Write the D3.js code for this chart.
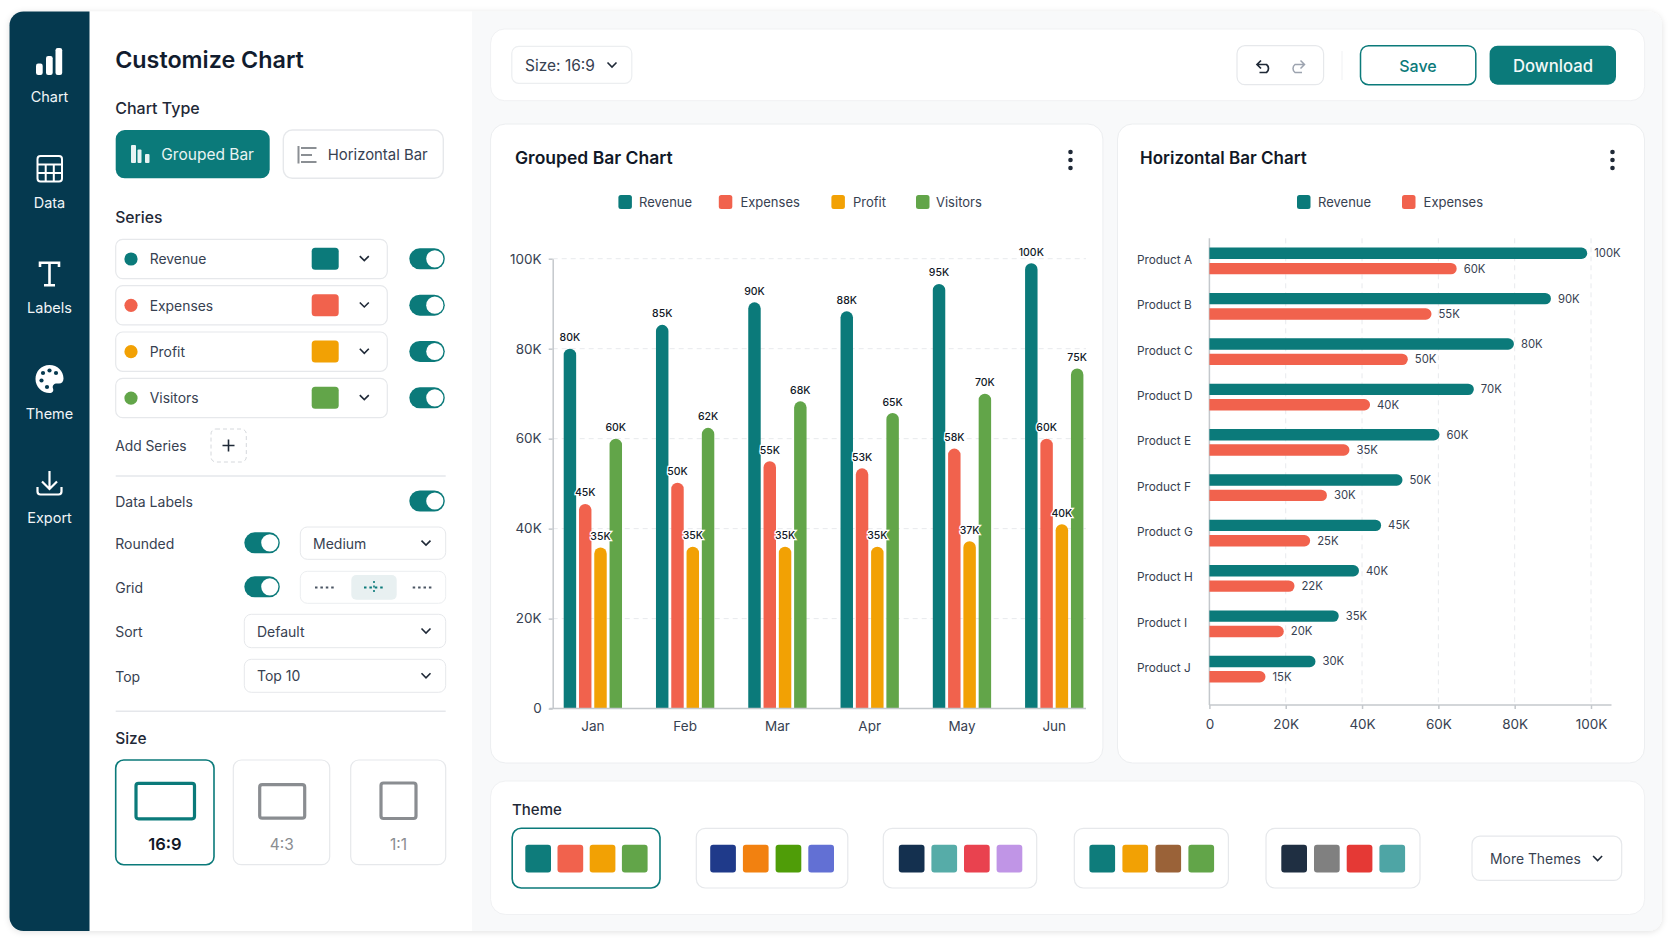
<!DOCTYPE html>
<html>
<head>
<meta charset="utf-8">
<title>Customize Chart</title>
<script src="https://cdnjs.cloudflare.com/ajax/libs/d3/7.8.5/d3.min.js"></script>
<style>
  html, body { margin: 0; padding: 0; background: #fff; }
  svg { display: block; font-family: Inter, "Noto Sans", sans-serif; }
  .gridline { stroke: #e8eaed; stroke-width: 1; stroke-dasharray: 5 4; }
  .axis path, .axis line { stroke: #c4c8cc; stroke-width: 1.5; }
  .axis text { font-family: Inter, sans-serif; font-size: 13.5px; fill: #374151; }
</style>
</head>
<body>
<svg id="page" width="1672" height="941"></svg>
<script>
// Data
// ------------------------------
var seriesNames = ['Revenue', 'Expenses', 'Profit', 'Visitors'];
var seriesColors = ['#0b7a7a', '#f1624d', '#f2a104', '#62a549'];

// bar heights, printed labels kept apart (they do not always agree)
var months = ['Jan', 'Feb', 'Mar', 'Apr', 'May', 'Jun'];
var monthRevenue = [80, 85.3, 90.3, 88.3, 94.4, 99];
var monthExpenses = [45.5, 50.2, 55, 53.4, 57.8, 60];
var monthProfit = [35.8, 36, 36, 36, 37.2, 41];
var monthVisitors = [60, 62.4, 68.3, 65.7, 70, 75.6];
var monthRevenueLabels = ['80K', '85K', '90K', '88K', '95K', '100K'];
var monthExpensesLabels = ['45K', '50K', '55K', '53K', '58K', '60K'];
var monthProfitLabels = ['35K', '35K', '35K', '35K', '37K', '40K'];
var monthVisitorsLabels = ['60K', '62K', '68K', '65K', '70K', '75K'];

var products = ['Product A', 'Product B', 'Product C', 'Product D', 'Product E',
                'Product F', 'Product G', 'Product H', 'Product I', 'Product J'];
var productRevenue = [99, 89.5, 79.8, 69.3, 60.3, 50.6, 45, 39.2, 33.9, 27.8];
var productExpenses = [64.8, 58.2, 52, 42.1, 36.7, 30.8, 26.4, 22.3, 19.5, 14.7];
var productRevenueLabels = ['100K', '90K', '80K', '70K', '60K', '50K', '45K', '40K', '35K', '30K'];
var productExpensesLabels = ['60K', '55K', '50K', '40K', '35K', '30K', '25K', '22K', '20K', '15K'];

var tickValues = [0, 20, 40, 60, 80, 100];
var tickLabels = ['0', '20K', '40K', '60K', '80K', '100K'];

var themes = [
  ['#0e7c7b', '#f1624d', '#f2a104', '#62a549'],
  ['#1f3a8a', '#f28110', '#4f9d08', '#6270d4'],
  ['#14304f', '#56aca8', '#e9424f', '#c095e6'],
  ['#0e7c7b', '#f2a104', '#9a6238', '#62a549'],
  ['#1f2f42', '#808080', '#e53935', '#4ea5a5']
];

// Helpers
// ------------------------------
var TEAL = '#0b7a7a', BORDER = '#e6e8eb', INK = '#111827', SOFT = '#374151';
var svg = d3.select('#page');

function box(g, x, y, w, h, r, fill, stroke, sw) {
  return g.append('rect').attr('x', x).attr('y', y).attr('width', w).attr('height', h).attr('rx', r)
    .attr('fill', fill || 'none').attr('stroke', stroke || 'none').attr('stroke-width', sw || 1);
}

function label(g, x, y, str, size, weight, fill, anchor) {
  return g.append('text').attr('x', x).attr('y', y).attr('dominant-baseline', 'central')
    .attr('font-size', size).attr('font-weight', weight || 400).attr('fill', fill || SOFT)
    .attr('text-anchor', anchor || 'start').text(str);
}

function chevron(g, x, y) {
  g.append('path').attr('d', 'M' + (x - 4.5) + ',' + (y - 2.5) + 'l4.5,4.5l4.5,-4.5')
    .attr('fill', 'none').attr('stroke', '#1f2937').attr('stroke-width', 1.6);
}

function toggle(g, x, y) {
  box(g, x, y, 35.5, 21, 10.5, TEAL);
  g.append('circle').attr('cx', x + 25.5).attr('cy', y + 10.5).attr('r', 8.6).attr('fill', '#fff');
}

function select(g, x, y, w, h, str) {
  box(g, x, y, w, h, 7, '#fff', BORDER);
  label(g, x + 12.7, y + h / 2, str, 14, 400, SOFT);
  chevron(g, 426, y + h / 2);
}

function kebab(g, x) {
  g.selectAll(null).data([152, 160, 168]).join('circle')
    .attr('cx', x).attr('cy', function(d) { return d; }).attr('r', 2.3).attr('fill', '#1f2937');
}

function legend(g, names, swatchX, textX) {
  names.forEach(function(name, i) {
    box(g, swatchX[i], 195, 13.5, 14, 2.5, seriesColors[i]);
    label(g, textX[i], 202, name, 13, 400, SOFT);
  });
}

// top rounded bar growing up from the baseline
function barUp(x, y, w, y0) {
  var r = Math.min(w / 2, y0 - y);
  return 'M' + x + ',' + y0 + 'V' + (y + r) + 'A' + r + ',' + r + ' 0 0 1 ' + (x + r) + ',' + y +
    'H' + (x + w - r) + 'A' + r + ',' + r + ' 0 0 1 ' + (x + w) + ',' + (y + r) + 'V' + y0 + 'Z';
}

// right rounded bar growing out from the axis
function barRight(x0, x, y, h) {
  var r = h / 2;
  return 'M' + x0 + ',' + y + 'H' + (x - r) + 'A' + r + ',' + r + ' 0 0 1 ' + (x - r) + ',' + (y + h) +
    'H' + x0 + 'Z';
}

// Page frame
// ------------------------------
var defs = svg.append('defs');
var soft = defs.append('filter').attr('id', 'frameShadow').attr('x', '-3%').attr('y', '-3%')
  .attr('width', '106%').attr('height', '106%');
soft.append('feDropShadow').attr('dx', 0).attr('dy', 1).attr('stdDeviation', 3)
  .attr('flood-color', '#000').attr('flood-opacity', 0.12);

box(svg, 9.5, 11.5, 1652.5, 919.5, 14, '#f8f9fa').attr('filter', 'url(#frameShadow)');
svg.append('path').attr('d', 'M89.5,11.5H472V931H89.5Z').attr('fill', '#fff');
svg.append('path').attr('d', 'M89.5,11.5H23.5A14,14 0 0 0 9.5,25.5V917A14,14 0 0 0 23.5,931H89.5Z')
  .attr('fill', '#05394f');

// Icon rail
// ------------------------------
var rail = svg.append('g');
[[36, 63.5, 6.7, 11.5], [46, 56, 6.7, 19], [55.5, 48, 6.7, 27]].forEach(function(b) {
  box(rail, b[0], b[1], b[2], b[3], 2.2, '#fff');
});
box(rail, 37.5, 156, 24.5, 25.5, 3, 'none', '#fff', 2);
rail.append('path').attr('d', 'M37.5,164.5H62M37.5,173H62M45.7,164.5V181.5M53.8,164.5V181.5')
  .attr('stroke', '#fff').attr('stroke-width', 2);
rail.append('path').attr('d', 'M40,267V262.8H59V267M49.5,262.8V285M44,285.2H55')
  .attr('fill', 'none').attr('stroke', '#fff').attr('stroke-width', 2.6);
rail.append('path')
  .attr('d', 'M49.5,365C41,365 35.5,371.5 35.5,379C35.5,387 42,393 49.5,393C52.5,393 54,391 53,388.5C52,385.5 54,383.5 57,383.5H59C61.8,383.5 63.5,381.5 63.5,378.5C63.5,371 57.5,365 49.5,365Z')
  .attr('fill', '#fff');
[[41.5, 380.5], [43, 373], [49.5, 370.5], [56, 373], [47, 387]].forEach(function(p) {
  rail.append('circle').attr('cx', p[0]).attr('cy', p[1]).attr('r', 2.1).attr('fill', '#05394f');
});
rail.append('path').attr('d', 'M49.5,471V489M42,481.5L49.5,489L57,481.5M37.5,487V491.5Q37.5,494.5 40.5,494.5H58.5Q61.5,494.5 61.5,491.5V487')
  .attr('fill', 'none').attr('stroke', '#fff').attr('stroke-width', 2.2);
[['Chart', 96], ['Data', 202], ['Labels', 307.3], ['Theme', 413.3], ['Export', 517]].forEach(function(d) {
  label(rail, 49.5, d[1], d[0], 14.5, 400, '#f1f5f7', 'middle');
});

// Customize panel
// ------------------------------
var panel = svg.append('g');
var LEFT = 115.2;
label(panel, LEFT, 59.5, 'Customize Chart', 23.3, 600, '#111c2e');
label(panel, LEFT, 108, 'Chart Type', 16, 500, '#1f2937');

box(panel, 115.7, 130, 154, 48.3, 9, TEAL);
[[131, 145, 5, 18], [137.5, 149.5, 4, 13.5], [145, 154, 4.5, 9]].forEach(function(b) {
  box(panel, b[0], b[1], b[2], b[3], 1, '#e8f3f3');
});
label(panel, 161.3, 154.5, 'Grouped Bar', 15.5, 400, '#e8f3f3');
box(panel, 283.3, 130, 160, 48.3, 9, '#fff', BORDER, 1.4);
panel.append('path').attr('d', 'M298.5,146V163.5M301,148H316.5M301,155H312M301,162H316.5')
  .attr('fill', 'none').attr('stroke', '#8b8f94').attr('stroke-width', 2);
label(panel, 327.7, 154.5, 'Horizontal Bar', 14.9, 400, SOFT);

label(panel, LEFT, 217.2, 'Series', 15.7, 500, '#1f2937');
seriesNames.forEach(function(name, i) {
  var y = 239.3 + i * 46.35;
  box(panel, 115.7, y, 271.6, 39.3, 7, '#fff', BORDER, 1.2);
  panel.append('circle').attr('cx', 131).attr('cy', y + 19.7).attr('r', 6.6).attr('fill', seriesColors[i]);
  label(panel, 149.7, y + 20, name, 13.9, 400, SOFT);
  box(panel, 311.7, y + 8.5, 27, 22, 3.5, seriesColors[i]);
  chevron(panel, 364.3, y + 19.3);
  toggle(panel, 409.3, y + 9);
});

label(panel, LEFT, 445.7, 'Add Series', 13.8, 400, SOFT);
box(panel, 211, 429, 35.3, 33, 5, '#fff', '#d5d8dc', 1).attr('stroke-dasharray', '4 3');
panel.append('path').attr('d', 'M222.5,445.5H234.5M228.5,439.5V451.5').attr('stroke', '#1f2937').attr('stroke-width', 1.6);

panel.append('path').attr('d', 'M115.7,476H445.7M115.7,711.3H445.7').attr('stroke', '#e5e7eb').attr('stroke-width', 1.4);

label(panel, LEFT, 501.7, 'Data Labels', 14, 400, SOFT);
toggle(panel, 409.3, 490.5);
label(panel, LEFT, 543.5, 'Rounded', 14, 400, SOFT);
toggle(panel, 244.3, 532.3);
select(panel, 300.3, 527, 145.4, 32.3, 'Medium');
label(panel, LEFT, 587.7, 'Grid', 14, 400, SOFT);
toggle(panel, 244.3, 576.3);
box(panel, 300.3, 571.3, 145.4, 32, 7, '#fff', '#eceef0');
box(panel, 351.3, 575, 45.4, 24.7, 5, '#e8f0f1');
[[325, '#4b5563'], [374, TEAL], [422.7, '#4b5563']].forEach(function(d) {
  panel.append('line').attr('x1', d[0] - 10).attr('x2', d[0] + 10).attr('y1', 587.5).attr('y2', 587.5)
    .attr('stroke', d[1]).attr('stroke-width', 1.8).attr('stroke-dasharray', '2.5 2.9');
});
panel.append('line').attr('x1', 374).attr('x2', 374).attr('y1', 581).attr('y2', 594)
  .attr('stroke', TEAL).attr('stroke-width', 1.6).attr('stroke-dasharray', '2 2.5');
label(panel, LEFT, 631.7, 'Sort', 14, 400, SOFT);
select(panel, 244.3, 614.3, 201.4, 33.4, 'Default');
label(panel, LEFT, 676.7, 'Top', 14, 400, SOFT);
select(panel, 244.3, 659.3, 201.4, 33, 'Top 10');

label(panel, LEFT, 738.2, 'Size', 15.5, 500, '#1f2937');
box(panel, 115.7, 760, 98.3, 104.7, 8, '#fff', TEAL, 1.6);
box(panel, 233.3, 760, 96.4, 104.7, 8, '#fff', BORDER, 1.2);
box(panel, 350.7, 760, 95, 104.7, 8, '#fff', BORDER, 1.2);
box(panel, 136, 783.3, 58.5, 35.5, 2.5, 'none', TEAL, 3.2);
box(panel, 259.7, 784.7, 45, 33.5, 2.5, 'none', '#8a8d91', 3.2);
box(panel, 381, 783, 35, 35.5, 2.5, 'none', '#8a8d91', 3.2);
label(panel, 165, 844, '16:9', 16.5, 600, INK, 'middle');
label(panel, 281.7, 844, '4:3', 15.5, 400, '#8a8d91', 'middle');
label(panel, 398.5, 844, '1:1', 15.5, 400, '#8a8d91', 'middle');

// Toolbar and cards
// ------------------------------
var main = svg.append('g');
box(main, 490.6, 29, 1154, 71.7, 14, '#fff', '#f0f1f3');
box(main, 490.6, 124, 612.3, 639, 15, '#fff', '#eceef0');
box(main, 1117.5, 124, 527, 639, 15, '#fff', '#eceef0');
box(main, 490.6, 781, 1154, 133.5, 15, '#fff', '#f0f1f3');

box(main, 511.8, 46.3, 120, 37, 7, '#fff', '#eceef0', 1.2);
label(main, 525, 65, 'Size: 16:9', 15.5, 400, SOFT);
chevron(main, 612, 65);

box(main, 1237, 45.7, 86.6, 39, 8, '#fff', BORDER, 1.2);
main.append('path').attr('d', 'M1261,60.5L1257,64.5L1261,68.5M1257,64.5H1266.5A5,5 0 0 1 1266.5,72.5H1259.5')
  .attr('fill', 'none').attr('stroke', '#1f2937').attr('stroke-width', 1.7);
main.append('path').attr('d', 'M1300.5,60.5L1304.5,64.5L1300.5,68.5M1304.5,64.5H1295A5,5 0 0 0 1295,72.5H1302')
  .attr('fill', 'none').attr('stroke', '#9ca3af').attr('stroke-width', 1.5);
main.append('line').attr('x1', 1342).attr('x2', 1342).attr('y1', 51).attr('y2', 80).attr('stroke', '#f0f1f3');
box(main, 1360.5, 45.7, 115.3, 39, 8, '#fff', TEAL, 1.5);
label(main, 1418, 65.5, 'Save', 16, 500, TEAL, 'middle');
box(main, 1489.6, 45.7, 126.4, 39, 8, TEAL);
label(main, 1553, 65.5, 'Download', 16.7, 500, '#f2f8f8', 'middle');

// Grouped bar chart
// ------------------------------
var grouped = svg.append('g');
label(grouped, 515, 157.7, 'Grouped Bar Chart', 17.5, 600, INK);
kebab(grouped, 1070.5);
legend(grouped, seriesNames, [618.4, 718.8, 831.4, 916], [639, 740.4, 853, 936]);

var monthValues = [monthRevenue, monthExpenses, monthProfit, monthVisitors];
var monthLabels = [monthRevenueLabels, monthExpensesLabels, monthProfitLabels, monthVisitorsLabels];

var y = d3.scaleLinear().domain([0, 100]).range([708.6, 258.7]);
var x0 = d3.scaleBand().domain(months).range([563.7, 1083.4]).paddingInner(0.368);
var x1 = d3.scaleBand().domain(seriesNames).range([0, x0.bandwidth()]).paddingInner(0.185);

grouped.selectAll('.gridline').data(tickValues.slice(1)).join('line').attr('class', 'gridline')
  .attr('x1', 552.7).attr('x2', 1086)
  .attr('y1', function(d) { return y(d); }).attr('y2', function(d) { return y(d); });

grouped.append('g').attr('class', 'axis').attr('transform', 'translate(552.7,0)')
  .call(d3.axisLeft(y).tickValues(tickValues).tickSize(4).tickSizeOuter(0).tickPadding(7)
    .tickFormat(function(d, i) { return tickLabels[i]; }));

grouped.selectAll('.bars').data(seriesNames).join('g').attr('class', 'bars').each(function(name, s) {
  d3.select(this).selectAll('path').data(monthValues[s]).join('path')
    .attr('fill', seriesColors[s])
    .attr('d', function(d, i) { return barUp(x0(months[i]) + x1(name), y(d), x1.bandwidth(), y(0)); });
});

grouped.append('line').attr('x1', 549.4).attr('x2', 1086).attr('y1', y(0)).attr('y2', y(0))
  .attr('stroke', '#c4c8cc').attr('stroke-width', 1.5);

grouped.append('g').attr('class', 'axis').attr('transform', 'translate(0,' + y(0) + ')')
  .call(d3.axisBottom(x0).tickSize(0).tickPadding(13))
  .call(function(g) { g.select('.domain').remove(); });

seriesNames.forEach(function(name, s) {
  grouped.selectAll(null).data(monthValues[s]).join('text')
    .attr('x', function(d, i) { return x0(months[i]) + x1(name) + x1.bandwidth() / 2; })
    .attr('y', function(d) { return y(d) - 11; })
    .attr('dominant-baseline', 'central').attr('text-anchor', 'middle')
    .attr('font-size', 10.5).attr('font-weight', 500).attr('fill', INK)
    .attr('stroke', '#fff').attr('stroke-width', 2.5).attr('paint-order', 'stroke')
    .text(function(d, i) { return monthLabels[s][i]; });
});

// Horizontal bar chart
// ------------------------------
var horizontal = svg.append('g');
label(horizontal, 1140, 157.7, 'Horizontal Bar Chart', 17, 600, INK);
kebab(horizontal, 1612.5);
legend(horizontal, seriesNames.slice(0, 2), [1297, 1402], [1318, 1423.6]);

var productValues = [productRevenue, productExpenses];
var productLabels = [productRevenueLabels, productExpensesLabels];

var hx = d3.scaleLinear().domain([0, 100]).range([1209.4, 1591]);
var hy0 = d3.scaleBand().domain(products).range([247.6, 682.5]).paddingInner(0.41);
var hy1 = d3.scaleBand().domain(seriesNames.slice(0, 2)).range([0, hy0.bandwidth()]).paddingInner(0.255);

horizontal.selectAll('.gridline').data(tickValues.slice(1)).join('line').attr('class', 'gridline')
  .attr('y1', 238.3).attr('y2', 705)
  .attr('x1', function(d) { return hx(d); }).attr('x2', function(d) { return hx(d); });

horizontal.append('line').attr('x1', hx(0)).attr('x2', hx(0)).attr('y1', 238.3).attr('y2', 705)
  .attr('stroke', '#c4c8cc').attr('stroke-width', 1.5);
horizontal.append('line').attr('x1', hx(0)).attr('x2', 1611.5).attr('y1', 705).attr('y2', 705)
  .attr('stroke', '#c4c8cc').attr('stroke-width', 1.5);

horizontal.append('g').attr('class', 'axis').attr('transform', 'translate(0,705)')
  .call(d3.axisBottom(hx).tickValues(tickValues).tickSize(4).tickSizeOuter(0).tickPadding(10)
    .tickFormat(function(d, i) { return tickLabels[i]; }))
  .call(function(g) { g.select('.domain').remove(); });

horizontal.selectAll('.productName').data(products).join('text').attr('class', 'productName')
  .attr('x', 1137).attr('y', function(d) { return hy0(d) + hy0.bandwidth() / 2 - 1; })
  .attr('dominant-baseline', 'central').attr('font-size', 11.8).attr('fill', SOFT)
  .text(function(d) { return d; });

seriesNames.slice(0, 2).forEach(function(name, s) {
  var rows = horizontal.append('g');
  rows.selectAll('path').data(productValues[s]).join('path')
    .attr('fill', seriesColors[s])
    .attr('d', function(d, i) { return barRight(hx(0), hx(d), hy0(products[i]) + hy1(name), hy1.bandwidth()); });
  rows.selectAll('text').data(productValues[s]).join('text')
    .attr('x', function(d) { return hx(d) + 7; })
    .attr('y', function(d, i) { return hy0(products[i]) + hy1(name) + hy1.bandwidth() / 2; })
    .attr('dominant-baseline', 'central').attr('font-size', 11.3).attr('fill', SOFT)
    .text(function(d, i) { return productLabels[s][i]; });
});

// Theme strip
// ------------------------------
var strip = svg.append('g');
label(strip, 512, 809.3, 'Theme', 15, 500, '#1f2937');

var cardLeft = [512.2, 696.3, 883.3, 1074.3, 1266];
var cardWidth = [147.8, 151.5, 153.4, 154.1, 154];
var swatchLeft = [525.3, 710.2, 898.8, 1089.4, 1281.3];
var swatchStep = [32.2, 32.7, 32.6, 33, 32.7];

themes.forEach(function(colors, t) {
  box(strip, cardLeft[t], 828.3, cardWidth[t], 59.7, 9, '#fff', t === 0 ? TEAL : BORDER, t === 0 ? 1.6 : 1.2);
  strip.selectAll(null).data(colors).join('rect')
    .attr('x', function(d, i) { return swatchLeft[t] + i * swatchStep[t]; })
    .attr('y', 844.8).attr('width', 25.7).attr('height', 27.6).attr('rx', 3)
    .attr('fill', function(d) { return d; });
});

box(strip, 1472, 836.2, 149.7, 44.2, 8, '#fff', BORDER, 1.2);
label(strip, 1490, 859, 'More Themes', 13.9, 400, SOFT);
chevron(strip, 1597.6, 858.5);
</script>
</body>
</html>
